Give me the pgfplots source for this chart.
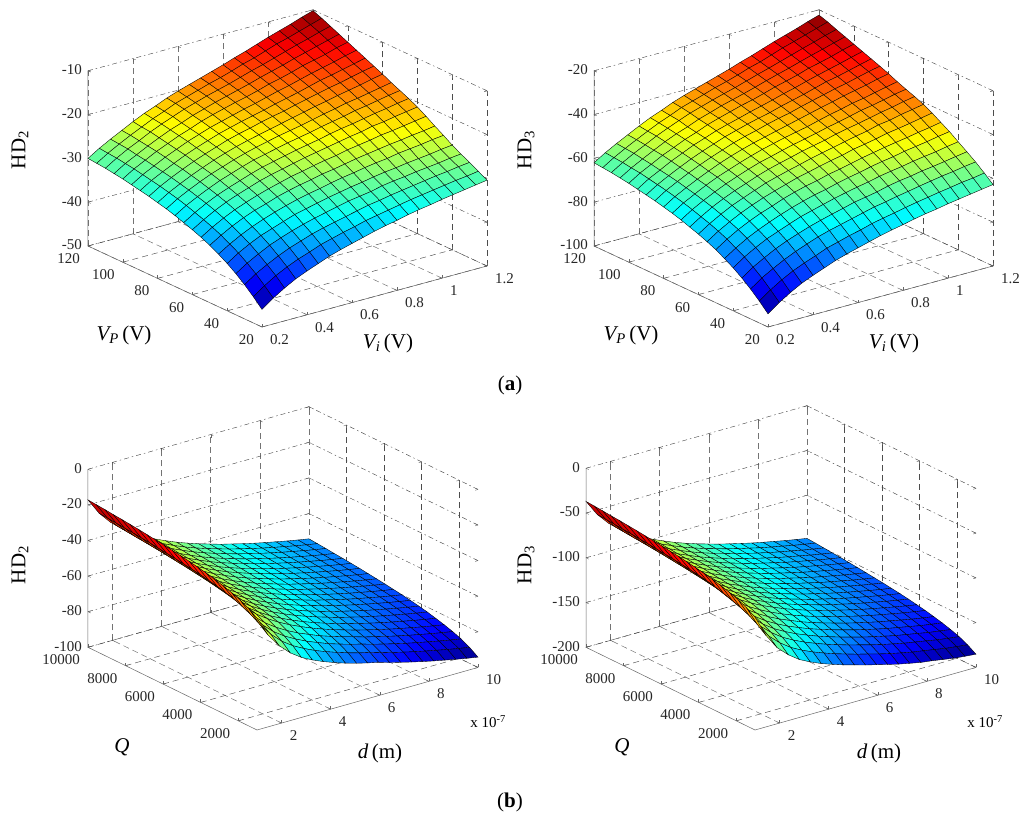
\documentclass[border=0pt]{standalone}
\usepackage{fontspec}
\setmainfont{Liberation Serif}
\usepackage{pgfplots}
\usepackage{pgfplotstable}
\pgfplotsset{compat=1.18}

% HD2 against Vi (rows: Vp 20..120 step 5, columns: Vi 0.2..1.2 step 0.05)
\pgfplotstableread[row sep=crcr]{z\\
-46.0\\-44.1\\-42.5\\-41.1\\-40.0\\-39.0\\-38.0\\-37.2\\-36.5\\-35.8\\-35.1\\-34.5\\-34.0\\-33.4\\-32.9\\-32.5\\-32.0\\-31.6\\-31.2\\-30.8\\-30.4\\
-44.0\\-42.2\\-40.6\\-39.3\\-38.2\\-37.3\\-36.3\\-35.6\\-34.9\\-34.3\\-33.6\\-33.1\\-32.6\\-32.1\\-31.6\\-31.2\\-30.8\\-30.4\\-30.0\\-29.7\\-29.3\\
-42.2\\-40.4\\-39.0\\-37.7\\-36.6\\-35.7\\-34.8\\-34.1\\-33.5\\-32.9\\-32.3\\-31.7\\-31.3\\-30.8\\-30.4\\-30.0\\-29.6\\-29.2\\-28.9\\-28.5\\-28.2\\
-40.6\\-38.9\\-37.5\\-36.2\\-35.2\\-34.3\\-33.5\\-32.8\\-32.2\\-31.6\\-31.0\\-30.6\\-30.2\\-29.6\\-29.2\\-28.9\\-28.5\\-28.2\\-27.9\\-27.5\\-27.2\\
-39.2\\-37.5\\-36.1\\-34.9\\-34.0\\-33.1\\-32.2\\-31.6\\-31.0\\-30.4\\-29.9\\-29.4\\-29.0\\-28.5\\-28.1\\-27.8\\-27.4\\-27.1\\-26.8\\-26.4\\-26.1\\
-38.0\\-36.4\\-35.0\\-33.8\\-32.8\\-31.9\\-31.1\\-30.4\\-29.8\\-29.3\\-28.7\\-28.2\\-27.8\\-27.3\\-26.9\\-26.6\\-26.1\\-25.8\\-25.5\\-25.1\\-24.8\\
-36.9\\-35.3\\-33.9\\-32.7\\-31.7\\-30.9\\-30.0\\-29.3\\-28.7\\-28.2\\-27.6\\-27.2\\-26.7\\-26.2\\-25.8\\-25.4\\-25.0\\-24.7\\-24.3\\-24.0\\-23.6\\
-36.0\\-34.4\\-33.0\\-31.8\\-30.8\\-29.9\\-29.1\\-28.4\\-27.7\\-27.2\\-26.6\\-26.1\\-25.7\\-25.1\\-24.7\\-24.3\\-23.8\\-23.5\\-23.1\\-22.7\\-22.3\\
-35.2\\-33.6\\-32.2\\-31.0\\-30.0\\-29.1\\-28.2\\-27.5\\-26.9\\-26.3\\-25.7\\-25.2\\-24.7\\-24.2\\-23.7\\-23.3\\-22.7\\-22.4\\-21.9\\-21.5\\-21.1\\
-34.5\\-32.9\\-31.5\\-30.3\\-29.3\\-28.4\\-27.5\\-26.7\\-26.1\\-25.5\\-24.9\\-24.4\\-23.9\\-23.3\\-22.8\\-22.4\\-21.9\\-21.4\\-21.0\\-20.5\\-20.1\\
-33.8\\-32.2\\-30.9\\-29.7\\-28.6\\-27.7\\-26.8\\-26.0\\-25.4\\-24.8\\-24.2\\-23.7\\-23.2\\-22.6\\-22.1\\-21.6\\-21.0\\-20.6\\-20.1\\-19.6\\-19.2\\
-33.2\\-31.6\\-30.3\\-29.1\\-28.0\\-27.1\\-26.2\\-25.4\\-24.7\\-24.1\\-23.5\\-23.0\\-22.5\\-21.9\\-21.3\\-20.8\\-20.2\\-19.8\\-19.3\\-18.8\\-18.3\\
-32.7\\-31.1\\-29.8\\-28.6\\-27.5\\-26.5\\-25.6\\-24.8\\-24.1\\-23.5\\-22.9\\-22.3\\-21.7\\-21.1\\-20.5\\-20.0\\-19.4\\-18.9\\-18.4\\-17.8\\-17.3\\
-32.2\\-30.6\\-29.3\\-28.1\\-27.0\\-26.0\\-25.1\\-24.2\\-23.5\\-22.9\\-22.2\\-21.6\\-21.1\\-20.4\\-19.8\\-19.2\\-18.6\\-18.1\\-17.5\\-16.9\\-16.4\\
-31.8\\-30.2\\-28.9\\-27.7\\-26.5\\-25.5\\-24.6\\-23.7\\-23.0\\-22.3\\-21.7\\-21.1\\-20.4\\-19.8\\-19.2\\-18.5\\-17.8\\-17.3\\-16.7\\-16.1\\-15.5\\
-31.4\\-29.8\\-28.5\\-27.2\\-26.1\\-25.0\\-24.1\\-23.2\\-22.5\\-21.8\\-21.1\\-20.5\\-19.8\\-19.1\\-18.5\\-17.8\\-17.1\\-16.5\\-15.9\\-15.2\\-14.6\\
-31.0\\-29.4\\-28.1\\-26.8\\-25.7\\-24.6\\-23.7\\-22.7\\-21.9\\-21.2\\-20.5\\-19.9\\-19.2\\-18.4\\-17.8\\-17.1\\-16.3\\-15.7\\-15.1\\-14.3\\-13.7\\
-30.7\\-29.1\\-27.8\\-26.5\\-25.3\\-24.2\\-23.3\\-22.3\\-21.5\\-20.7\\-20.0\\-19.3\\-18.6\\-17.8\\-17.1\\-16.4\\-15.6\\-14.9\\-14.2\\-13.5\\-12.8\\
-30.4\\-28.8\\-27.4\\-26.2\\-24.9\\-23.8\\-22.8\\-21.8\\-21.0\\-20.2\\-19.5\\-18.8\\-18.0\\-17.2\\-16.5\\-15.7\\-14.9\\-14.1\\-13.4\\-12.6\\-11.9\\
-30.2\\-28.6\\-27.2\\-25.9\\-24.7\\-23.5\\-22.5\\-21.4\\-20.6\\-19.8\\-19.0\\-18.3\\-17.5\\-16.6\\-15.9\\-15.0\\-14.1\\-13.4\\-12.6\\-11.8\\-11.0\\
-30.0\\-28.4\\-27.0\\-25.7\\-24.4\\-23.2\\-22.2\\-21.1\\-20.2\\-19.4\\-18.6\\-17.8\\-17.0\\-16.1\\-15.3\\-14.4\\-13.5\\-12.7\\-11.9\\-11.0\\-10.2\\
}\tblA

% HD3 against Vi
\pgfplotstableread[row sep=crcr]{z\\
-94.0\\-90.2\\-87.0\\-84.2\\-82.0\\-80.0\\-78.0\\-76.4\\-75.0\\-73.6\\-72.2\\-71.0\\-70.0\\-68.8\\-67.8\\-67.0\\-66.0\\-65.2\\-64.4\\-63.6\\-62.8\\
-90.0\\-86.3\\-83.1\\-80.4\\-78.2\\-76.3\\-74.2\\-72.8\\-71.3\\-70.1\\-68.6\\-67.5\\-66.5\\-65.4\\-64.4\\-63.5\\-62.6\\-61.8\\-60.9\\-60.3\\-59.4\\
-86.4\\-82.7\\-79.8\\-77.1\\-74.8\\-72.8\\-70.9\\-69.4\\-68.1\\-66.8\\-65.5\\-64.2\\-63.3\\-62.2\\-61.3\\-60.3\\-59.4\\-58.5\\-57.8\\-56.9\\-56.2\\
-83.2\\-79.6\\-76.7\\-74.0\\-71.8\\-69.9\\-68.1\\-66.6\\-65.2\\-63.9\\-62.5\\-61.6\\-60.6\\-59.3\\-58.3\\-57.6\\-56.6\\-55.9\\-55.1\\-54.2\\-53.4\\
-80.4\\-76.8\\-73.9\\-71.3\\-69.3\\-67.3\\-65.4\\-64.0\\-62.6\\-61.2\\-60.0\\-58.9\\-57.9\\-56.7\\-55.8\\-55.0\\-54.0\\-53.2\\-52.5\\-51.5\\-50.7\\
-78.0\\-74.6\\-71.6\\-69.1\\-66.9\\-64.9\\-63.1\\-61.5\\-60.1\\-59.0\\-57.6\\-56.4\\-55.4\\-54.2\\-53.2\\-52.4\\-51.3\\-50.5\\-49.7\\-48.7\\-47.9\\
-75.8\\-72.4\\-69.4\\-66.9\\-64.7\\-62.9\\-60.9\\-59.3\\-57.9\\-56.8\\-55.4\\-54.4\\-53.2\\-52.0\\-51.0\\-50.0\\-49.1\\-48.3\\-47.3\\-46.5\\-45.5\\
-74.0\\-70.6\\-67.7\\-65.1\\-62.9\\-60.9\\-59.2\\-57.6\\-56.0\\-54.8\\-53.5\\-52.3\\-51.3\\-49.9\\-49.0\\-48.0\\-46.8\\-46.0\\-45.1\\-44.1\\-43.1\\
-72.4\\-69.0\\-66.1\\-63.5\\-61.4\\-59.4\\-57.4\\-55.9\\-54.5\\-53.2\\-51.8\\-50.6\\-49.5\\-48.3\\-47.2\\-46.2\\-44.8\\-44.1\\-42.9\\-42.0\\-41.0\\
-71.0\\-67.7\\-64.7\\-62.2\\-60.0\\-58.1\\-56.1\\-54.4\\-53.0\\-51.7\\-50.3\\-49.2\\-48.1\\-46.7\\-45.6\\-44.6\\-43.5\\-42.3\\-41.4\\-40.2\\-39.3\\
-69.6\\-66.3\\-63.5\\-61.0\\-58.7\\-56.7\\-54.8\\-53.1\\-51.8\\-50.4\\-49.1\\-48.0\\-46.8\\-45.5\\-44.4\\-43.2\\-41.9\\-41.0\\-39.9\\-38.7\\-37.8\\
-68.4\\-65.1\\-62.4\\-59.8\\-57.5\\-55.6\\-53.7\\-52.0\\-50.4\\-49.1\\-47.8\\-46.7\\-45.6\\-44.2\\-42.9\\-41.8\\-40.5\\-39.6\\-38.4\\-37.3\\-36.2\\
-67.4\\-64.1\\-61.4\\-58.9\\-56.6\\-54.4\\-52.5\\-50.8\\-49.3\\-48.0\\-46.7\\-45.4\\-44.1\\-42.8\\-41.5\\-40.3\\-39.0\\-37.9\\-36.8\\-35.5\\-34.4\\
-66.4\\-63.1\\-60.4\\-57.9\\-55.6\\-53.5\\-51.6\\-49.7\\-48.2\\-46.9\\-45.4\\-44.1\\-43.0\\-41.5\\-40.2\\-38.9\\-37.6\\-36.5\\-35.2\\-33.9\\-32.8\\
-65.6\\-62.3\\-59.6\\-57.1\\-54.7\\-52.6\\-50.7\\-48.8\\-47.3\\-45.8\\-44.5\\-43.3\\-41.8\\-40.5\\-39.2\\-37.7\\-36.2\\-35.2\\-33.9\\-32.6\\-31.3\\
-64.8\\-61.5\\-58.9\\-56.2\\-53.9\\-51.6\\-49.8\\-47.9\\-46.4\\-45.0\\-43.5\\-42.2\\-40.8\\-39.3\\-38.0\\-36.5\\-35.1\\-33.8\\-32.5\\-31.1\\-29.8\\
-64.0\\-60.7\\-58.1\\-55.4\\-53.2\\-50.9\\-49.1\\-47.0\\-45.4\\-43.9\\-42.4\\-41.2\\-39.7\\-38.1\\-36.8\\-35.4\\-33.7\\-32.5\\-31.2\\-29.6\\-28.3\\
-63.4\\-60.2\\-57.5\\-54.9\\-52.4\\-50.2\\-48.4\\-46.3\\-44.7\\-43.0\\-41.6\\-40.2\\-38.7\\-37.1\\-35.6\\-34.2\\-32.6\\-31.1\\-29.7\\-28.2\\-26.8\\
-62.8\\-59.6\\-56.8\\-54.3\\-51.7\\-49.5\\-47.4\\-45.4\\-43.8\\-42.2\\-40.7\\-39.3\\-37.7\\-36.1\\-34.6\\-33.0\\-31.4\\-29.8\\-28.3\\-26.7\\-25.3\\
-62.4\\-59.2\\-56.4\\-53.8\\-51.3\\-48.9\\-46.9\\-44.7\\-43.1\\-41.5\\-39.8\\-38.4\\-36.8\\-35.0\\-33.6\\-31.8\\-30.0\\-28.5\\-26.9\\-25.3\\-23.7\\
-62.0\\-58.8\\-56.0\\-53.4\\-50.8\\-48.4\\-46.4\\-44.2\\-42.4\\-40.8\\-39.2\\-37.6\\-36.0\\-34.2\\-32.6\\-30.8\\-29.0\\-27.4\\-25.8\\-24.0\\-22.4\\
}\tblB

% HD2 against d (rows: Q 1000..10000 step 450, columns: d 1..10 step 0.45)
\pgfplotstableread[row sep=crcr]{z\\
-37.2\\-48.4\\-56.1\\-61.9\\-66.2\\-69.4\\-72.1\\-74.4\\-76.5\\-78.3\\-79.9\\-81.3\\-83.2\\-84.8\\-86.4\\-87.9\\-89.3\\-90.6\\-91.9\\-93.1\\-94.2\\
-34.0\\-44.6\\-52.0\\-57.7\\-62.0\\-65.3\\-68.2\\-70.6\\-72.8\\-74.8\\-76.6\\-78.1\\-80.0\\-81.6\\-83.2\\-84.7\\-86.1\\-87.4\\-88.7\\-89.9\\-91.0\\
-31.6\\-41.8\\-49.0\\-54.6\\-58.9\\-62.3\\-65.3\\-67.8\\-70.2\\-72.2\\-74.1\\-75.7\\-77.6\\-79.2\\-80.8\\-82.3\\-83.7\\-85.0\\-86.3\\-87.5\\-88.6\\
-29.8\\-39.6\\-46.6\\-52.0\\-56.3\\-59.9\\-63.0\\-65.6\\-68.1\\-70.2\\-72.2\\-73.9\\-75.8\\-77.4\\-79.0\\-80.5\\-81.9\\-83.2\\-84.5\\-85.7\\-86.8\\
-28.3\\-37.5\\-44.2\\-49.5\\-53.8\\-57.5\\-60.7\\-63.5\\-66.1\\-68.4\\-70.5\\-72.4\\-74.3\\-75.9\\-77.5\\-79.0\\-80.4\\-81.7\\-83.0\\-84.2\\-85.3\\
-27.0\\-36.2\\-42.9\\-48.2\\-52.5\\-56.2\\-59.4\\-62.2\\-64.8\\-67.1\\-69.2\\-71.1\\-73.0\\-74.6\\-76.2\\-77.7\\-79.1\\-80.4\\-81.7\\-82.9\\-84.0\\
-25.8\\-35.0\\-41.7\\-47.0\\-51.3\\-55.0\\-58.2\\-61.0\\-63.6\\-65.9\\-68.0\\-69.9\\-71.8\\-73.4\\-75.0\\-76.5\\-77.9\\-79.2\\-80.5\\-81.7\\-82.8\\
-24.8\\-34.0\\-40.7\\-46.0\\-50.3\\-54.0\\-57.2\\-60.0\\-62.6\\-64.9\\-67.0\\-68.9\\-70.8\\-72.4\\-74.0\\-75.5\\-76.9\\-78.2\\-79.5\\-80.7\\-81.8\\
-23.9\\-33.1\\-39.8\\-45.1\\-49.4\\-53.1\\-56.3\\-59.1\\-61.7\\-64.0\\-66.1\\-68.0\\-69.9\\-71.5\\-73.1\\-74.6\\-76.0\\-77.3\\-78.6\\-79.8\\-80.9\\
-23.1\\-32.3\\-39.0\\-44.3\\-48.6\\-52.3\\-55.5\\-58.3\\-60.9\\-63.2\\-65.3\\-67.2\\-69.1\\-70.7\\-72.3\\-73.8\\-75.2\\-76.5\\-77.8\\-79.0\\-80.1\\
-22.4\\-31.6\\-38.3\\-43.6\\-47.9\\-51.6\\-54.8\\-57.6\\-60.2\\-62.5\\-64.6\\-66.5\\-68.4\\-70.0\\-71.6\\-73.1\\-74.5\\-75.8\\-77.1\\-78.3\\-79.4\\
-21.7\\-30.9\\-37.6\\-42.9\\-47.2\\-50.9\\-54.1\\-56.9\\-59.5\\-61.8\\-63.9\\-65.8\\-67.7\\-69.3\\-70.9\\-72.4\\-73.8\\-75.1\\-76.4\\-77.6\\-78.7\\
-21.1\\-30.3\\-37.0\\-42.3\\-46.6\\-50.3\\-53.5\\-56.3\\-58.9\\-61.2\\-63.3\\-65.2\\-67.1\\-68.7\\-70.3\\-71.8\\-73.2\\-74.5\\-75.8\\-77.0\\-78.1\\
-20.5\\-29.7\\-36.4\\-41.7\\-46.0\\-49.7\\-52.9\\-55.7\\-58.3\\-60.6\\-62.7\\-64.6\\-66.5\\-68.1\\-69.7\\-71.2\\-72.6\\-73.9\\-75.2\\-76.4\\-77.5\\
-19.9\\-29.1\\-35.8\\-41.1\\-45.4\\-49.1\\-52.3\\-55.1\\-57.7\\-60.0\\-62.1\\-64.0\\-65.9\\-67.5\\-69.1\\-70.6\\-72.0\\-73.3\\-74.6\\-75.8\\-76.9\\
-19.4\\-28.6\\-35.3\\-40.6\\-44.9\\-48.6\\-51.8\\-54.6\\-57.2\\-59.5\\-61.6\\-63.5\\-65.4\\-67.0\\-68.6\\-70.1\\-71.5\\-72.8\\-74.1\\-75.3\\-76.4\\
-18.9\\-28.1\\-34.8\\-40.1\\-44.4\\-48.1\\-51.3\\-54.1\\-56.7\\-59.0\\-61.1\\-63.0\\-64.9\\-66.5\\-68.1\\-69.6\\-71.0\\-72.3\\-73.6\\-74.8\\-75.9\\
-18.5\\-27.7\\-34.4\\-39.7\\-44.0\\-47.7\\-50.9\\-53.7\\-56.3\\-58.6\\-60.7\\-62.6\\-64.5\\-66.1\\-67.7\\-69.2\\-70.6\\-71.9\\-73.2\\-74.4\\-75.5\\
-18.0\\-27.2\\-33.9\\-39.2\\-43.5\\-47.2\\-50.4\\-53.2\\-55.8\\-58.1\\-60.2\\-62.1\\-64.0\\-65.6\\-67.2\\-68.7\\-70.1\\-71.4\\-72.7\\-73.9\\-75.0\\
-17.6\\-26.8\\-33.5\\-38.8\\-43.1\\-46.8\\-50.0\\-52.8\\-55.4\\-57.7\\-59.8\\-61.7\\-63.6\\-65.2\\-66.8\\-68.3\\-69.7\\-71.0\\-72.3\\-73.5\\-74.6\\
-17.2\\-26.4\\-33.1\\-38.4\\-42.7\\-46.4\\-49.6\\-52.4\\-55.0\\-57.3\\-59.4\\-61.3\\-63.2\\-64.8\\-66.4\\-67.9\\-69.3\\-70.6\\-71.9\\-73.1\\-74.2\\
}\tblC

% HD3 against d
\pgfplotstableread[row sep=crcr]{z\\
-74.0\\-97.9\\-115.0\\-126.3\\-135.2\\-141.4\\-146.7\\-151.1\\-155.2\\-158.7\\-162.3\\-165.5\\-168.7\\-171.8\\-174.4\\-176.9\\-178.6\\-180.6\\-182.7\\-184.0\\-185.2\\
-68.1\\-90.5\\-106.6\\-117.7\\-126.4\\-132.9\\-138.4\\-143.1\\-147.4\\-151.2\\-154.9\\-158.2\\-161.6\\-164.7\\-167.4\\-170.0\\-172.0\\-174.1\\-176.3\\-177.9\\-179.3\\
-63.6\\-84.8\\-100.1\\-110.9\\-119.6\\-126.3\\-132.0\\-136.9\\-141.4\\-145.4\\-149.2\\-152.6\\-156.1\\-159.2\\-162.0\\-164.7\\-166.9\\-169.1\\-171.4\\-173.2\\-174.8\\
-60.3\\-80.6\\-95.3\\-106.0\\-114.6\\-121.4\\-127.3\\-132.3\\-137.0\\-141.1\\-145.0\\-148.5\\-152.0\\-155.1\\-158.0\\-160.8\\-163.1\\-165.4\\-167.8\\-169.7\\-171.5\\
-57.5\\-77.1\\-91.3\\-101.9\\-110.4\\-117.3\\-123.4\\-128.5\\-133.3\\-137.5\\-141.5\\-145.0\\-148.6\\-151.7\\-154.7\\-157.5\\-159.9\\-162.3\\-164.8\\-166.8\\-168.7\\
-55.1\\-74.1\\-87.9\\-98.4\\-106.9\\-113.9\\-120.0\\-125.2\\-130.2\\-134.5\\-138.5\\-142.1\\-145.7\\-148.8\\-151.8\\-154.7\\-157.2\\-159.7\\-162.2\\-164.3\\-166.3\\
-52.9\\-71.4\\-84.9\\-95.3\\-103.8\\-110.8\\-117.1\\-122.4\\-127.4\\-131.8\\-135.8\\-139.5\\-143.1\\-146.2\\-149.3\\-152.2\\-154.8\\-157.3\\-159.8\\-162.0\\-164.1\\
-51.1\\-69.0\\-82.1\\-92.4\\-100.8\\-108.0\\-114.3\\-119.7\\-124.8\\-129.3\\-133.4\\-137.1\\-140.8\\-143.9\\-147.0\\-150.0\\-152.7\\-155.2\\-157.8\\-160.1\\-162.3\\
-49.4\\-67.3\\-80.4\\-90.7\\-99.1\\-106.3\\-112.6\\-118.0\\-123.1\\-127.6\\-131.7\\-135.4\\-139.1\\-142.2\\-145.3\\-148.3\\-151.0\\-153.5\\-156.1\\-158.4\\-160.6\\
-47.9\\-65.8\\-78.9\\-89.2\\-97.6\\-104.8\\-111.1\\-116.5\\-121.6\\-126.1\\-130.2\\-133.9\\-137.6\\-140.7\\-143.8\\-146.8\\-149.5\\-152.0\\-154.6\\-156.9\\-159.1\\
-46.6\\-64.5\\-77.6\\-87.9\\-96.3\\-103.5\\-109.8\\-115.2\\-120.3\\-124.8\\-128.9\\-132.6\\-136.3\\-139.4\\-142.5\\-145.5\\-148.2\\-150.7\\-153.3\\-155.6\\-157.8\\
-45.3\\-63.2\\-76.3\\-86.6\\-95.0\\-102.2\\-108.5\\-113.9\\-119.0\\-123.5\\-127.6\\-131.3\\-135.0\\-138.1\\-141.2\\-144.2\\-146.9\\-149.4\\-152.0\\-154.3\\-156.5\\
-44.2\\-62.1\\-75.2\\-85.5\\-93.9\\-101.1\\-107.4\\-112.8\\-117.9\\-122.4\\-126.5\\-130.2\\-133.9\\-137.0\\-140.1\\-143.1\\-145.8\\-148.3\\-150.9\\-153.2\\-155.4\\
-43.1\\-61.0\\-74.1\\-84.4\\-92.8\\-100.0\\-106.3\\-111.7\\-116.8\\-121.3\\-125.4\\-129.1\\-132.8\\-135.9\\-139.0\\-142.0\\-144.7\\-147.2\\-149.8\\-152.1\\-154.3\\
-42.0\\-59.9\\-73.0\\-83.3\\-91.7\\-98.9\\-105.2\\-110.6\\-115.7\\-120.2\\-124.3\\-128.0\\-131.7\\-134.8\\-137.9\\-140.9\\-143.6\\-146.1\\-148.7\\-151.0\\-153.2\\
-41.1\\-59.0\\-72.1\\-82.4\\-90.8\\-98.0\\-104.3\\-109.7\\-114.8\\-119.3\\-123.4\\-127.1\\-130.8\\-133.9\\-137.0\\-140.0\\-142.7\\-145.2\\-147.8\\-150.1\\-152.3\\
-40.1\\-58.0\\-71.1\\-81.4\\-89.8\\-97.0\\-103.3\\-108.7\\-113.8\\-118.3\\-122.4\\-126.1\\-129.8\\-132.9\\-136.0\\-139.0\\-141.7\\-144.2\\-146.8\\-149.1\\-151.3\\
-39.4\\-57.3\\-70.4\\-80.7\\-89.1\\-96.3\\-102.6\\-108.0\\-113.1\\-117.6\\-121.7\\-125.4\\-129.1\\-132.2\\-135.3\\-138.3\\-141.0\\-143.5\\-146.1\\-148.4\\-150.6\\
-38.5\\-56.4\\-69.5\\-79.8\\-88.2\\-95.4\\-101.7\\-107.1\\-112.2\\-116.7\\-120.8\\-124.5\\-128.2\\-131.3\\-134.4\\-137.4\\-140.1\\-142.6\\-145.2\\-147.5\\-149.7\\
-37.7\\-55.6\\-68.7\\-79.0\\-87.4\\-94.6\\-100.9\\-106.3\\-111.4\\-115.9\\-120.0\\-123.7\\-127.4\\-130.5\\-133.6\\-136.6\\-139.3\\-141.8\\-144.4\\-146.7\\-148.9\\
-37.0\\-54.9\\-68.0\\-78.3\\-86.7\\-93.9\\-100.2\\-105.6\\-110.7\\-115.2\\-119.3\\-123.0\\-126.7\\-129.8\\-132.9\\-135.9\\-138.6\\-141.1\\-143.7\\-146.0\\-148.2\\
}\tblD

\pgfplotsset{
  colormap={matjet}{rgb255=(0,0,128) rgb255=(0,0,255) rgb255=(0,128,255) rgb255=(0,255,255) rgb255=(128,255,128) rgb255=(255,255,0) rgb255=(255,128,0) rgb255=(255,0,0) rgb255=(128,0,0)},
  surfstyle/.style={surf, shader=faceted, faceted color=black, line width=0.35pt, z buffer=reverse xy seq, mesh/cols=21},
  box3d/.style={
    anchor=south west, clip=false,
    colormap name=matjet,
    /pgf/number format/assume math mode=true,
    /pgf/number format/1000 sep={},
    scaled ticks=false,
    tick label style={font=\fontsize{15}{17}\selectfont, inner sep=0pt, black!85},
    xticklabel style={anchor=west, xshift=8pt, yshift=-12.5pt},
    yticklabel style={anchor=east, xshift=-8pt, yshift=-12.5pt},
    zticklabel style={anchor=east, xshift=-6pt, yshift=1pt},
    axis line style={draw=none},
    tick style={black!60, line width=0.4pt},
    tick align=inside,
    major tick length=3pt,
    grid=major,
    x grid style={black!55, dash pattern=on 6pt off 4pt, line width=0.5pt},
    y grid style={black!70, dash pattern=on 6pt off 4pt, line width=0.45pt},
    z grid style={black!75, dash pattern=on 5pt off 3pt on 1.5pt off 3pt, line width=0.4pt},
  },
  topbox/.style={box3d,
    xmin=0.2, xmax=1.2, ymin=20, ymax=120,
    xtick={0.2,0.4,0.6,0.8,1,1.2}, ytick={20,40,60,80,100,120},
  },
  botbox/.style={box3d,
    xmin=1, xmax=10, ymin=1000, ymax=10000,
    xtick={2,4,6,8,10}, ytick={2000,4000,6000,8000,10000},
    x={(24.55pt,6.95pt)}, y={(-0.01878pt,0.00919pt)},
  },
}
\newcommand{\lab}{\fontsize{21}{24}\selectfont}

\begin{document}
\begin{tikzpicture}[x=1pt,y=1pt]
\useasboundingbox (0,0) rectangle (1024,819);

% top left
\begin{axis}[topbox, at={(88pt,492pt)},
    x={(225pt,61pt)}, y={(-1.74pt,0.81pt)}, z={(0pt,4.38pt)},
    zmin=-50, zmax=-10, ztick={-50,-40,-30,-20,-10},
    point meta min=-46.5, point meta max=-10]
  \addplot3[surfstyle] table[x index=0, y index=0, z index=0, x expr={0.2+0.05*mod(\coordindex,21)}, y expr={20+5*floor((\coordindex+0.5)/21)}] {\tblA};
  \draw[black!60, line width=0.5pt] (axis cs:0.2,120,-10) -- (axis cs:0.2,120,-50) -- (axis cs:0.2,20,-50) -- (axis cs:1.2,20,-50);
\end{axis}

% top right
\begin{axis}[topbox, at={(594pt,492pt)},
    x={(225pt,61pt)}, y={(-1.74pt,0.81pt)}, z={(0pt,2.19pt)},
    zmin=-100, zmax=-20, ztick={-100,-80,-60,-40,-20},
    point meta min=-94.5, point meta max=-22]
  \addplot3[surfstyle] table[x index=0, y index=0, z index=0, x expr={0.2+0.05*mod(\coordindex,21)}, y expr={20+5*floor((\coordindex+0.5)/21)}] {\tblB};
  \draw[black!60, line width=0.5pt] (axis cs:0.2,120,-20) -- (axis cs:0.2,120,-100) -- (axis cs:0.2,20,-100) -- (axis cs:1.2,20,-100);
\end{axis}

% bottom left
\begin{axis}[botbox, at={(88pt,89pt)}, z={(0pt,1.78pt)},
    zmin=-100, zmax=0, ztick={-100,-80,-60,-40,-20,0},
    point meta min=-94.5, point meta max=-17]
  \addplot3[surfstyle] table[x index=0, y index=0, z index=0, x expr={1+0.45*mod(\coordindex,21)}, y expr={1000+450*floor((\coordindex+0.5)/21)}] {\tblC};
  \draw[black!60, line width=0.5pt] (axis cs:1,10000,0) -- (axis cs:1,10000,-100) -- (axis cs:1,1000,-100) -- (axis cs:10,1000,-100);
\end{axis}

% bottom right
\begin{axis}[botbox, at={(586pt,89pt)}, z={(0pt,0.895pt)},
    zmin=-200, zmax=0, ztick={-200,-150,-100,-50,0},
    point meta min=-186, point meta max=-36.5]
  \addplot3[surfstyle] table[x index=0, y index=0, z index=0, x expr={1+0.45*mod(\coordindex,21)}, y expr={1000+450*floor((\coordindex+0.5)/21)}] {\tblD};
  \draw[black!60, line width=0.5pt] (axis cs:1,10000,0) -- (axis cs:1,10000,-200) -- (axis cs:1,1000,-200) -- (axis cs:10,1000,-200);
\end{axis}

% axis names, placed by hand as in the figure
\node[rotate=90, font=\lab] at (20,669) {HD\textsubscript{2}};
\node[rotate=90, font=\lab] at (526,669) {HD\textsubscript{3}};
\node[rotate=90, font=\lab] at (20,254) {HD\textsubscript{2}};
\node[rotate=90, font=\lab] at (526,254) {HD\textsubscript{3}};
\node[font=\lab] at (124,484) {\textit{V\textsubscript{P}}\,(V)};
\node[font=\lab] at (388,476) {\textit{V\textsubscript{i}}\,(V)};
\node[font=\lab] at (631,484) {\textit{V\textsubscript{P}}\,(V)};
\node[font=\lab] at (894,476) {\textit{V\textsubscript{i}}\,(V)};
\node[font=\lab] at (122,72) {\textit{Q}};
\node[font=\lab] at (380,66) {\textit{d}\,(m)};
\node[font=\lab] at (622,72) {\textit{Q}};
\node[font=\lab] at (879,66) {\textit{d}\,(m)};
\node[font=\fontsize{15}{17}\selectfont] at (488,97) {x 10\textsuperscript{-7}};
\node[font=\fontsize{15}{17}\selectfont] at (985,97) {x 10\textsuperscript{-7}};
\node[font=\lab] at (510,434) {(\textbf{a})};
\node[font=\lab] at (510,17) {(\textbf{b})};
\end{tikzpicture}
\end{document}
